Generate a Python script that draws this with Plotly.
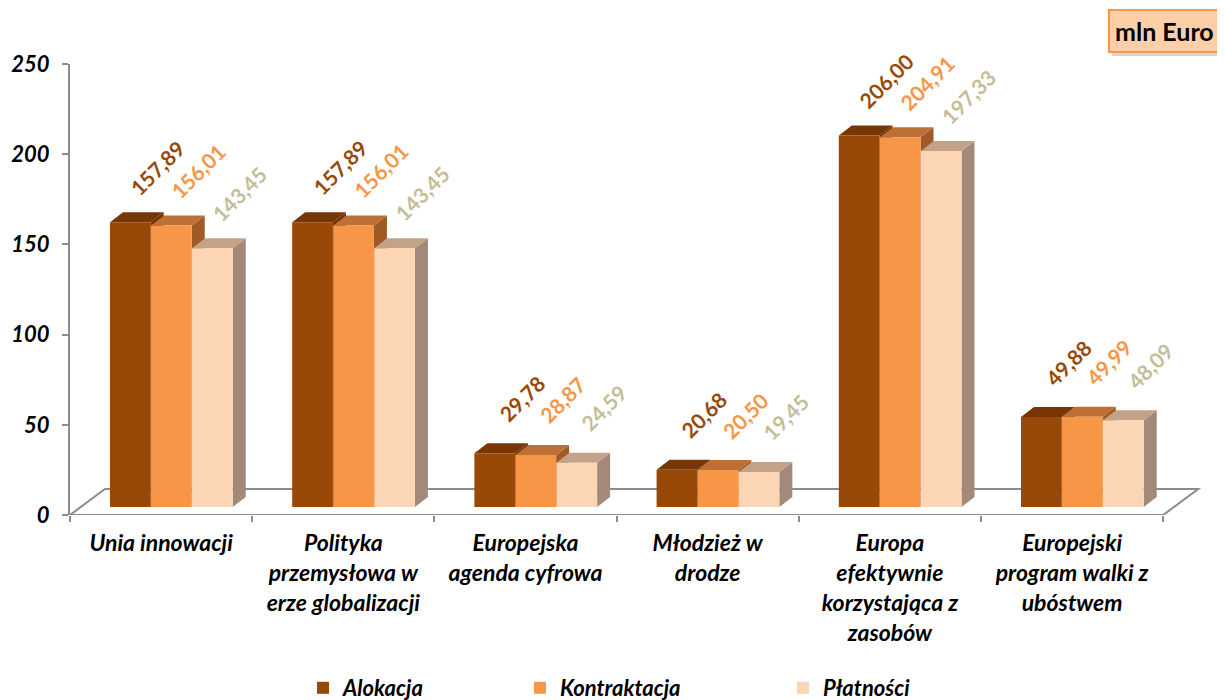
import plotly.graph_objects as go

# Data (mln Euro)
categories = ["Unia innowacji",
              "Polityka<br>przemysłowa w<br>erze globalizacji",
              "Europejska<br>agenda cyfrowa",
              "Młodzież w<br>drodze",
              "Europa<br>efektywnie<br>korzystająca z<br>zasobów",
              "Europejski<br>program walki z<br>ubóstwem"]
series_names = ["Alokacja", "Kontraktacja", "Płatności"]
alokacja = [157.89, 157.89, 29.78, 20.68, 206.00, 49.88]
kontraktacja = [156.01, 156.01, 28.87, 20.50, 204.91, 49.99]
platnosci = [143.45, 143.45, 24.59, 19.45, 197.33, 48.09]
y_ticks = [0, 50, 100, 150, 200, 250]

# Styles: front, top, side, label colours
front = ['#984807', '#F79646', '#FCD5B5']
top = ['#773604', '#BD6F36', '#C4A288']
side = ['#6E3204', '#9F5A27', '#A3897A']
label_col = ['#984807', '#F79646', '#C4BD97']

FONT = 'Lato'
GRAY = '#8C8C8C'

# geometry (plot 1135 px wide, 182.2 px per category, 1.804 px per unit)
px_x = 182.2
px_y = 1.804
bar_w = 0.2235
offsets = [-0.2805, -0.0554, 0.1696]
dx, dy = 13 / px_x, 10 / px_y
base_shift = 8 / px_y          # bars stand a bit behind the floor front edge

fig = go.Figure()
shapes = []

# floor
fx, fy = 35 / px_x, 26 / px_y
shapes.append(dict(type='path', xref='x', yref='y', layer='below',
                   path=f"M -0.5,0 L 5.5,0 L {5.5 + fx},{fy} L {-0.5 + fx},{fy} Z",
                   line=dict(color=GRAY, width=2), fillcolor='white'))

all_vals = [alokacja, kontraktacja, platnosci]
annotations = []
for k, (name, vals) in enumerate(zip(series_names, all_vals)):
    xs = list(range(len(categories)))
    fig.add_trace(go.Bar(x=xs, y=vals, name=name, yaxis='y2',
                         offset=offsets[k], width=bar_w,
                         marker=dict(color=front[k], line=dict(width=0)),
                         legend='legend' if k == 0 else f'legend{k + 1}',
                         hoverinfo='skip'))
    for i, v in enumerate(vals):
        x0 = i + offsets[k]
        x1 = x0 + bar_w
        # side face
        shapes.append(dict(type='path', xref='x', yref='y2', layer='below',
                           path=f"M {x1},0 L {x1 + dx},{dy} L {x1 + dx},{v + dy} L {x1},{v} Z",
                           line=dict(width=0), fillcolor=side[k]))
        # top face
        shapes.append(dict(type='path', xref='x', yref='y2', layer='below',
                           path=f"M {x0},{v} L {x1},{v} L {x1 + dx},{v + dy} L {x0 + dx},{v + dy} Z",
                           line=dict(width=0), fillcolor=top[k]))
        annotations.append(dict(x=(x0 + x1) / 2, y=v, xref='x', yref='y2',
                                text=f"{v:.2f}".replace('.', ','), showarrow=False,
                                xshift=27, yshift=55, textangle=-45,
                                font=dict(family=FONT, size=21, color=label_col[k], weight='bold')))

# unit box (page px -> paper: plot spans 70..1205 x, 64..515 y)
box_x = (1108 - 70) / 1135
box_y = (515 - 31) / 451
shapes.append(dict(type='rect', xref='paper', yref='paper', layer='above',
                   x0=(1112 - 70) / 1135, x1=(1240 - 70) / 1135,
                   y0=(515 - 56) / 451, y1=(515 - 20) / 451,
                   line=dict(width=0), fillcolor='rgba(110,110,110,0.3)'))
annotations.append(dict(x=box_x, y=box_y, xref='paper', yref='paper',
                        xanchor='left', yanchor='middle', text="mln Euro", showarrow=False,
                        bgcolor='#FCCFA8', bordercolor='#F79646', borderwidth=2, borderpad=5,
                        font=dict(family=FONT, size=25, color='black', weight='bold')))

legend_style = dict(orientation='h', yanchor='middle', xanchor='left', y=(515 - 688) / 451,
                    bgcolor='rgba(0,0,0,0)',
                    font=dict(family=FONT, size=22, color='black', weight='bold', style='italic'))
legend_x = [(303 - 70) / 1135, (520 - 70) / 1135, (783 - 70) / 1135]

# page body has an 8 px margin, so the figure margins are reduced by 8
fig.update_layout(
    width=1225, height=700,
    margin=dict(l=62, r=28, t=56, b=193, autoexpand=False),
    paper_bgcolor='white', plot_bgcolor='white',
    barmode='overlay',
    showlegend=True,
    legend=dict(x=legend_x[0], **legend_style),
    legend2=dict(x=legend_x[1], **legend_style),
    legend3=dict(x=legend_x[2], **legend_style),
    xaxis=dict(range=[-0.5, -0.5 + 1135 / px_x], tickmode='array',
               tickvals=list(range(len(categories))), ticktext=categories,
               ticks='', showline=False, showgrid=False, zeroline=False,
               ticklabelstandoff=12, automargin=False,
               tickfont=dict(family=FONT, size=23, color='black', weight='bold', style='italic'),
               minor=dict(tickvals=[i - 0.5 for i in range(len(categories) + 1)],
                          ticks='outside', ticklen=6, tickwidth=2, tickcolor=GRAY)),
    yaxis=dict(range=[0, 250], tickvals=y_ticks, ticks='outside', ticklen=6,
               tickwidth=2, tickcolor=GRAY, showline=True, linecolor=GRAY, linewidth=2,
               showgrid=False, zeroline=False, ticklabelstandoff=8, automargin=False,
               tickfont=dict(family=FONT, size=22, color='black', weight='bold', style='italic')),
    yaxis2=dict(overlaying='y', range=[-base_shift, 250 - base_shift], visible=False),
    shapes=shapes,
    annotations=annotations,
)

fig.write_html("out.html")
